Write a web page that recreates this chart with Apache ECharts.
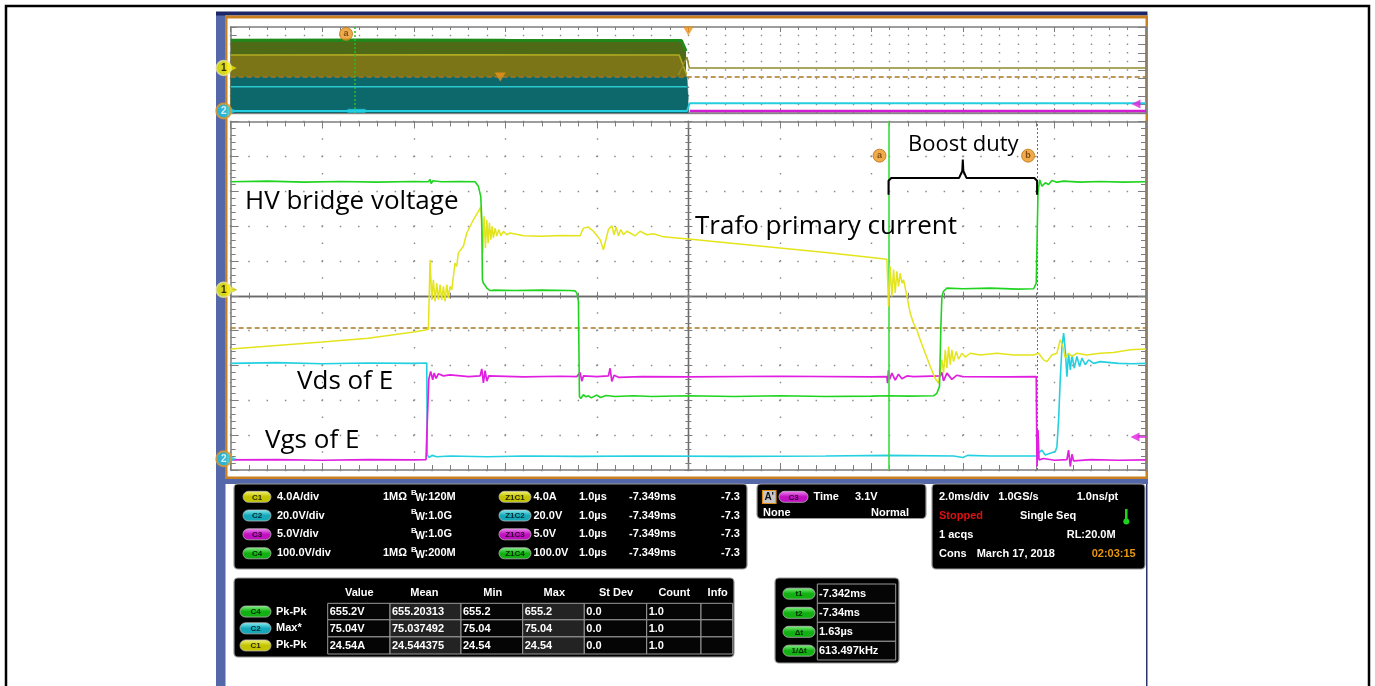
<!DOCTYPE html>
<html><head><meta charset="utf-8">
<script src="https://cdn.jsdelivr.net/npm/echarts/dist/echarts.min.js"></script>
<style>html,body{margin:0;padding:0;background:#fff;overflow:hidden}#c{width:1375px;height:686px}</style>
</head><body><div id="c"></div>
<script>
// ===================== DATA =====================
// Zoom window: 1.0 µs/div, 10 div; vertical in divisions (centre = 0)
const mainTimeRange = [-5, 5];
const mainDivRange = [-5, 5];
// Overview record: 2.0 ms/div
const overviewTimeRange = [0, 20];
const overviewDivRange = [0, 10];

// C4 – HV bridge voltage (green)  [µs, div]
const c4Bridge = [
 [-5.00,3.27],[-4.60,3.29],[-4.20,3.26],[-3.80,3.28],[-3.40,3.26],[-3.00,3.28],[-2.84,3.27],[-2.822,3.34],[-2.81,3.22],[-2.79,3.30],
 [-2.70,3.27],[-2.50,3.28],[-2.33,3.27],[-2.294,3.14],[-2.268,2.85],[-2.257,2.18],[-2.250,0.46],[-2.239,0.36],[-2.221,0.30],
 [-2.202,0.22],[-2.166,0.15],[-2.130,0.16],[-1.90,0.15],[-1.60,0.16],[-1.30,0.15],[-1.237,0.14],[-1.219,0.08],[-1.201,-0.16],
 [-1.190,-2.89],[-1.175,-2.95],[-1.146,-2.84],[-1.12,-2.90],[-1.091,-2.87],[-1.06,-2.93],[-1.00,-2.85],[-0.96,-2.92],[-0.90,-2.86],
 [-0.80,-2.89],[-0.60,-2.87],[-0.40,-2.89],[0.00,-2.87],[0.50,-2.89],[1.00,-2.87],[1.50,-2.89],[2.00,-2.88],[2.187,-2.87],
 [2.40,-2.88],[2.679,-2.87],[2.715,-2.80],[2.744,-2.60],[2.759,-0.88],[2.770,-0.02],[2.788,0.13],[2.825,0.22],[3.00,0.20],
 [3.30,0.22],[3.60,0.19],[3.772,0.20],[3.801,0.36],[3.812,1.90],[3.820,2.95],[3.838,3.33],[3.863,3.14],[3.899,3.24],[3.936,3.19],
 [3.972,3.31],[4.027,3.26],[4.100,3.29],[4.282,3.26],[4.50,3.28],[4.75,3.26],[5.00,3.27]
];
// C1 – Trafo primary current (yellow)
const c1Current = [
 [-5.00,-1.53],[-4.50,-1.43],[-4.00,-1.33],[-3.50,-1.22],[-3.00,-1.04],[-2.90,-1.00],[-2.84,-0.96],[-2.822,1.03],[-2.803,-0.12],
 [-2.786,0.46],[-2.767,-0.16],[-2.749,0.36],[-2.731,-0.12],[-2.713,0.32],[-2.694,-0.12],[-2.676,0.27],[-2.658,-0.16],[-2.639,0.32],
 [-2.622,-0.07],[-2.603,0.27],[-2.585,0.17],[-2.549,0.94],[-2.531,0.84],[-2.513,1.23],[-2.458,1.42],[-2.421,1.80],[-2.349,2.18],
 [-2.294,2.42],[-2.268,2.55],[-2.246,1.23],[-2.232,2.28],[-2.217,1.37],[-2.202,2.18],[-2.188,1.51],[-2.174,2.09],[-2.158,1.61],
 [-2.144,1.99],[-2.130,1.66],[-2.111,1.94],[-2.093,1.71],[-2.071,1.90],[-2.049,1.72],[-2.020,1.85],[-1.984,1.75],[-1.948,1.80],
 [-1.80,1.72],[-1.60,1.71],[-1.40,1.73],[-1.183,1.72],[-1.146,1.94],[-1.092,1.97],[-1.037,1.85],[-0.964,1.61],[-0.928,1.32],
 [-0.910,1.37],[-0.873,1.90],[-0.836,2.01],[-0.811,1.75],[-0.789,1.97],[-0.764,1.72],[-0.738,1.90],[-0.709,1.75],[-0.672,1.85],
 [-0.636,1.80],[-0.581,1.72],[-0.527,1.85],[-0.454,1.75],[-0.381,1.78],[-0.272,1.69],[-0.126,1.66],[0.001,1.63],[0.50,1.50],
 [1.00,1.37],[1.50,1.24],[2.00,1.10],[2.169,1.05],[2.187,-0.31],[2.205,0.84],[2.224,-0.02],[2.242,0.75],[2.260,0.08],[2.278,0.70],
 [2.296,0.27],[2.315,0.65],[2.333,0.36],[2.351,0.46],[2.388,-0.02],[2.424,-0.50],[2.460,-0.79],[2.497,-0.98],[2.533,-1.26],
 [2.588,-1.65],[2.643,-2.03],[2.697,-2.37],[2.734,-2.51],[2.752,-2.46],[2.770,-1.84],[2.788,-2.22],[2.807,-1.55],[2.825,-2.08],
 [2.843,-1.46],[2.861,-1.98],[2.879,-1.55],[2.897,-1.89],[2.927,-1.60],[2.952,-1.82],[2.989,-1.65],[3.025,-1.76],[3.080,-1.65],
 [3.189,-1.70],[3.371,-1.65],[3.553,-1.70],[3.772,-1.70],[3.827,-1.65],[3.881,-1.84],[3.918,-1.89],[3.972,-1.70],[4.027,-1.65],
 [4.063,-1.26],[4.093,-1.46],[4.118,-1.79],[4.154,-1.65],[4.191,-1.74],[4.245,-1.65],[4.354,-1.70],[4.500,-1.65],[4.646,-1.63],
 [4.828,-1.55],[5.00,-1.53]
];
// C2 – Vgs of E (cyan)
const c2Vgs = [
 [-5.00,-1.94],[-4.50,-1.92],[-4.00,-1.95],[-3.50,-1.93],[-3.00,-1.94],[-2.858,-1.93],[-2.852,-4.57],[-2.83,-4.64],[-2.80,-4.58],
 [-2.75,-4.62],[-2.60,-4.60],[-2.20,-4.62],[-1.80,-4.60],[-1.20,-4.61],[-0.50,-4.60],[0.50,-4.61],[1.50,-4.60],[2.187,-4.58],
 [2.20,-4.63],[2.90,-4.60],[3.00,-4.64],[3.05,-4.58],[3.30,-4.60],[3.809,-4.60],[3.820,-4.52],[3.863,-4.43],[3.899,-4.57],
 [3.954,-4.52],[4.009,-4.47],[4.027,-4.33],[4.045,-3.56],[4.063,-2.41],[4.082,-1.46],[4.100,-1.07],[4.118,-1.55],[4.136,-2.32],
 [4.154,-1.65],[4.173,-2.13],[4.191,-1.70],[4.216,-2.08],[4.245,-1.74],[4.275,-2.03],[4.300,-1.79],[4.336,-1.98],[4.373,-1.84],
 [4.428,-1.94],[4.50,-1.89],[4.70,-1.94],[4.85,-1.95],[5.00,-1.94]
];
// C3 – Vds of E (magenta)
const c3Vds = [
 [-5.00,-4.71],[-4.50,-4.70],[-4.00,-4.72],[-3.50,-4.70],[-3.00,-4.71],[-2.866,-4.70],[-2.851,-3.50],[-2.836,-2.40],[-2.815,-2.17],
 [-2.793,-2.41],[-2.778,-2.22],[-2.756,-2.37],[-2.731,-2.24],[-2.676,-2.30],[-2.603,-2.27],[-2.40,-2.32],[-2.275,-2.30],[-2.257,-2.10],
 [-2.239,-2.50],[-2.221,-2.15],[-2.202,-2.45],[-2.18,-2.30],[-1.80,-2.33],[-1.40,-2.31],[-1.219,-2.32],[-1.183,-2.20],[-1.164,-2.45],
 [-1.146,-2.30],[-1.00,-2.32],[-0.873,-2.30],[-0.855,-2.08],[-0.836,-2.46],[-0.811,-2.28],[-0.764,-2.34],[-0.50,-2.32],[0.00,-2.33],
 [1.00,-2.31],[2.00,-2.33],[2.169,-2.32],[2.176,-2.51],[2.187,-2.13],[2.198,-2.40],[2.224,-2.22],[2.260,-2.42],[2.296,-2.25],
 [2.333,-2.38],[2.388,-2.30],[2.460,-2.32],[2.752,-2.30],[2.770,-2.20],[2.788,-2.44],[2.825,-2.22],[2.879,-2.40],[2.934,-2.28],
 [3.00,-2.32],[3.50,-2.33],[3.801,-2.32],[3.809,-4.90],[3.820,-3.85],[3.831,-4.71],[3.881,-4.67],[4.00,-4.72],[4.136,-4.70],
 [4.154,-4.43],[4.173,-4.90],[4.191,-4.55],[4.209,-4.74],[4.40,-4.70],[4.70,-4.72],[5.00,-4.71]
];
const cursorTimes = [2.187, 3.81];          // µs
const cursorLabels = ['a', 'b'];
const cursorLabelLevel = 4.02;              // div
const triggerLevelMain = -0.92;             // div
const braceLevels = [2.90, 3.38, 3.91];     // div: ends, bar, tip
const mainChannelMarks = [0.17, -4.68];     // "1", "2" ground markers
const mainC3Ref = -4.05;

// Overview (full record)  [ms, div]
const ovGreenBand  = [[0,8.47],[3,8.50],[6,8.46],[9.85,8.43],[9.95,7.2]];
const ovOliveBand  = [[0,6.74],[5,6.76],[9.80,6.74],[9.96,4.5]];
const ovTealBand   = [[0,4.19],[9.97,4.19],[10.0,1.6]];
const ovCyanMid    = [[0,3.06],[9.97,3.06]];
const ovCyanLow    = [[0,0.23],[9.97,0.23],[10.03,1.13],[20,1.13]];
const ovOliveRight = [[9.78,4.4],[9.97,6.5],[10.02,5.23],[20,5.23]];
const ovMagentaRight = [[10.03,0.23],[20,0.23]];
const ovTriggerLevel = 4.19;
const ovTriggerMarks = [[10.0,10],[5.89,4.65]];
const ovCursorTime = 2.70;
const ovCursorLabel = [2.52, 9.19];
const ovCyanTag = [2.75, 0.25];
const ovChannelMarks = [5.23, 0.23];
const ovC3Ref = 1.05;

// Annotation texts
const annotationTexts = ['HV bridge voltage', 'Trafo primary current', 'Boost duty', 'Vds of E', 'Vgs of E'];

// Channel readout panel
const chLabels = ['C1','C2','C3','C4'];
const chScales = ['4.0A/div','20.0V/div','5.0V/div','100.0V/div'];
const chImpedance = ['1MΩ','','','1MΩ'];
const chBandwidth = [':120M',':1.0G',':1.0G',':200M'];
const zoomLabels = ['Z1C1','Z1C2','Z1C3','Z1C4'];
const zoomScales = ['4.0A','20.0V','5.0V','100.0V'];
const zoomTimeDiv = ['1.0µs','1.0µs','1.0µs','1.0µs'];
const zoomPosition = ['-7.349ms','-7.349ms','-7.349ms','-7.349ms'];
const zoomTrail = ['-7.3','-7.3','-7.3','-7.3'];
// Trigger panel
const trigRow1 = ["A'", 'C3', 'Time', '3.1V'];
const trigRow2 = ['None', 'Normal'];
// Timebase panel
const tbRow1 = ['2.0ms/div', '1.0GS/s', '1.0ns/pt'];
const tbRow2 = ['Stopped', 'Single Seq'];
const tbRow3 = ['1 acqs', 'RL:20.0M'];
const tbRow4 = ['Cons', 'March 17, 2018', '02:03:15'];
// Measurement table
const measHeader = ['Value','Mean','Min','Max','St Dev','Count','Info'];
const measChannels = ['C4','C2','C1'];
const measTypes = ['Pk-Pk','Max*','Pk-Pk'];
const measRowC4 = ['655.2V','655.20313','655.2','655.2','0.0','1.0',''];
const measRowC2 = ['75.04V','75.037492','75.04','75.04','0.0','1.0',''];
const measRowC1 = ['24.54A','24.544375','24.54','24.54','0.0','1.0',''];
// Cursor readout
const cursorNames = ['t1','t2','Δt','1/Δt'];
const cursorValues = ['-7.342ms','-7.34ms','1.63µs','613.497kHz'];

// ===================== STYLE =====================
const COL = {
  yellow:'#e4e41c', green:'#1fd41f', cyan:'#22d0e0', magenta:'#e01fe0',
  grid:'#8a8a8a', edge:'#7d7d7d', centre:'#6a6a6a', orange:'#c98020', trig:'#ab7520'
};
const PILL = {
  C1:['#f6f67a','#c4c400','#2a2a00'], C2:['#8af0f6','#14a8b8','#00282c'],
  C3:['#f48af4','#c010c0','#2c002c'], C4:['#86f486','#12b012','#002a00'], G:['#86f486','#12b012','#002a00']
};
const panelFont = 'bold 11px "Liberation Sans", Arial, sans-serif';
const annFont = '"Open Sans", "Noto Sans", sans-serif';

// ===================== CHART =====================
const chart = echarts.init(document.getElementById('c'), null, {renderer:'canvas', width:1375, height:686});

function axis(o){
  return Object.assign({type:'value', axisLabel:{show:false}, splitLine:{show:false}, axisPointer:{show:false}, silent:true}, o);
}
const edgeLine = {onZero:false, lineStyle:{color:COL.edge, width:1.5}};
const tick = (len) => ({show:true, inside:true, length:len, lineStyle:{color:COL.edge, width:1}});
const mtick = (len) => ({show:true, splitNumber:5, length:len, lineStyle:{color:COL.edge, width:1}});
const dotted = (dash, period) => ({show:true, lineStyle:{color:COL.grid, width:1.4, type:[dash, period-dash], dashOffset:dash/2}});

const xAxes = [
  axis({gridIndex:0, min:overviewTimeRange[0], max:overviewTimeRange[1], interval:2, position:'bottom', axisLine:edgeLine, axisTick:tick(5), minorTick:mtick(3), splitLine:dotted(1.5,8.6), minorSplitLine:dotted(1.5,8.6)}),
  axis({gridIndex:0, min:overviewTimeRange[0], max:overviewTimeRange[1], interval:2, position:'top', axisLine:edgeLine, axisTick:tick(5), minorTick:mtick(3)}),
  axis({gridIndex:1, min:mainTimeRange[0], max:mainTimeRange[1], interval:1, position:'bottom', axisLine:edgeLine, axisTick:tick(7), minorTick:mtick(5), splitLine:dotted(1.5,17.4)}),
  axis({gridIndex:1, min:mainTimeRange[0], max:mainTimeRange[1], interval:1, position:'top', axisLine:edgeLine, axisTick:tick(7), minorTick:mtick(5)}),
  axis({gridIndex:1, min:mainTimeRange[0], max:mainTimeRange[1], interval:1, position:'bottom', axisLine:{onZero:true, onZeroAxisIndex:2, lineStyle:{color:COL.centre, width:1.3}}, axisTick:tick(4), minorTick:mtick(3)}),
  axis({gridIndex:1, min:mainTimeRange[0], max:mainTimeRange[1], interval:1, position:'top', axisLine:{onZero:true, onZeroAxisIndex:2, lineStyle:{color:COL.centre, width:1.3}}, axisTick:tick(4), minorTick:mtick(3)})
];
const yAxes = [
  axis({gridIndex:0, min:overviewDivRange[0], max:overviewDivRange[1], interval:1, position:'left', axisLine:edgeLine, axisTick:tick(6)}),
  axis({gridIndex:0, min:overviewDivRange[0], max:overviewDivRange[1], interval:1, position:'right', axisLine:edgeLine, axisTick:tick(8)}),
  axis({gridIndex:1, min:mainDivRange[0], max:mainDivRange[1], interval:1, position:'left', axisLine:edgeLine, axisTick:tick(8), minorTick:mtick(5), splitLine:dotted(1.5,18.3)}),
  axis({gridIndex:1, min:mainDivRange[0], max:mainDivRange[1], interval:1, position:'right', axisLine:edgeLine, axisTick:tick(8), minorTick:mtick(5)}),
  axis({gridIndex:1, min:mainDivRange[0], max:mainDivRange[1], interval:1, position:'left', axisLine:{onZero:true, onZeroAxisIndex:2, lineStyle:{color:COL.centre, width:1.3}}, axisTick:tick(4), minorTick:mtick(3)}),
  axis({gridIndex:1, min:mainDivRange[0], max:mainDivRange[1], interval:1, position:'right', axisLine:{onZero:true, onZeroAxisIndex:2, lineStyle:{color:COL.centre, width:1.3}}, axisTick:tick(4), minorTick:mtick(3)})
];

function mainLine(data, color, w, z, extra){
  return Object.assign({type:'line', xAxisIndex:2, yAxisIndex:2, data, symbol:'none', silent:true,
    lineStyle:{color, width:w}, z}, extra||{});
}
function ovLine(data, color, w, z, extra){
  return Object.assign({type:'line', xAxisIndex:0, yAxisIndex:0, data, symbol:'none', silent:true,
    lineStyle:{color, width:w}, z}, extra||{});
}
function marker(xi, yi, data, o){
  return Object.assign({type:'scatter', xAxisIndex:xi, yAxisIndex:yi, data, silent:true, clip:false, z:12}, o);
}

// brace built from the cursor times
const t1 = cursorTimes[0], t2 = cursorTimes[1], tm = (t1 + t2) / 2;
const braceData = [[t1,braceLevels[0]],[t1,braceLevels[1]-0.08],[t1+0.03,braceLevels[1]],[tm-0.04,braceLevels[1]],
  [tm-0.006,braceLevels[1]+0.2],[tm,braceLevels[2]],[tm+0.006,braceLevels[1]+0.2],[tm+0.04,braceLevels[1]],
  [t2-0.03,braceLevels[1]],[t2,braceLevels[1]-0.08],[t2,braceLevels[0]]];

const series = [
  // ---- overview ----
  ovLine(ovGreenBand, '#1f8a1c', 3, 2, {areaStyle:{color:'#4f6a16', opacity:1, origin:'start'}}),
  ovLine(ovOliveBand, '#b2aa22', 1.6, 3, {areaStyle:{color:'#7b7518', opacity:1, origin:'start'}}),
  ovLine(ovTealBand, '#0d6a6c', 0.5, 4, {areaStyle:{color:'#0d686b', opacity:1, origin:'start'},
    markLine:{silent:true, symbol:'none', label:{show:false}, animation:false,
      data:[{yAxis:ovTriggerLevel, lineStyle:{color:COL.trig, width:1.5, type:[5,3]}},
            {xAxis:ovCursorTime, lineStyle:{color:'#22c022', width:1.5, type:[2,2]}}]}}),
  ovLine(ovCyanMid, '#2bc8d2', 1.5, 5),
  ovLine(ovCyanLow, '#24cde0', 2, 5),
  ovLine(ovOliveRight, '#8e8c2c', 1.5, 5),
  ovLine(ovMagentaRight, '#d41cd4', 2.5, 5),
  // ---- main traces ----
  mainLine(c2Vgs, COL.cyan, 1.6, 3),
  mainLine(c3Vds, COL.magenta, 1.7, 4),
  mainLine(c1Current, COL.yellow, 1.5, 5),
  mainLine(c4Bridge, COL.green, 1.6, 6, {
    markLine:{silent:true, symbol:'none', label:{show:false}, animation:false,
      data:[{yAxis:triggerLevelMain, lineStyle:{color:COL.trig, width:1.5, type:[5,3]}},
            {xAxis:cursorTimes[0], lineStyle:{color:'#3ddc3d', width:1.6, type:'solid'}},
            {xAxis:cursorTimes[1], lineStyle:{color:'#2f9a2f', width:1, type:[2,2]}}]}}),
  mainLine(braceData, '#000', 2, 8),
  // ---- markers ----
  marker(2,2,[[mainTimeRange[0], mainChannelMarks[0]]], {symbol:'triangle', symbolRotate:-90, symbolSize:[8,8], symbolOffset:[2,0], itemStyle:{color:'#e8e400', borderColor:'#a8a000', borderWidth:0.5}}),
  marker(2,2,[[mainTimeRange[0], mainChannelMarks[1]]], {symbol:'triangle', symbolRotate:-90, symbolSize:[8,8], symbolOffset:[2,0], itemStyle:{color:'#28c8e0'}}),
  marker(2,2,[[mainTimeRange[0], mainChannelMarks[0]]], {symbol:'circle', symbolSize:15, symbolOffset:[-7,0], itemStyle:{color:'#f4f000', borderColor:'#e6e2a0', borderWidth:1.5}, label:{show:true, position:'inside', formatter:'1', color:'#000', fontSize:10, fontWeight:'bold', fontFamily:'Liberation Sans'}}),
  marker(2,2,[[mainTimeRange[0], mainChannelMarks[1]]], {symbol:'circle', symbolSize:15, symbolOffset:[-7,0], itemStyle:{color:'#22c6e2', borderColor:'#e8961e', borderWidth:2}, label:{show:true, position:'inside', formatter:'2', color:'#fff', fontSize:10, fontWeight:'bold', fontFamily:'Liberation Sans'}}),
  marker(2,2,[[mainTimeRange[1], mainC3Ref]], {symbol:'rect', symbolSize:[9,2], symbolOffset:[-4,0], itemStyle:{color:COL.magenta}}),
  marker(2,2,[[mainTimeRange[1], mainC3Ref]], {symbol:'triangle', symbolRotate:90, symbolSize:[9,9], symbolOffset:[-11,0], itemStyle:{color:COL.magenta}}),
  marker(2,2,cursorTimes.map((t,i)=>[t,cursorLabelLevel,cursorLabels[i]]), {symbol:'circle', symbolSize:13, symbolOffset:[-9,0], itemStyle:{color:'#e8961e', borderColor:'#c07010', borderWidth:1}, label:{show:true, position:'inside', formatter:(p)=>p.data[2], color:'#6a3000', fontSize:9, fontWeight:'bold'}}),
  marker(0,0,[[overviewTimeRange[0], ovChannelMarks[0]]], {symbol:'triangle', symbolRotate:-90, symbolSize:[8,8], symbolOffset:[2,0], itemStyle:{color:'#e8e400'}}),
  marker(0,0,[[overviewTimeRange[0], ovChannelMarks[1]]], {symbol:'triangle', symbolRotate:-90, symbolSize:[8,8], symbolOffset:[2,0], itemStyle:{color:'#28c8e0'}}),
  marker(0,0,[[overviewTimeRange[0], ovChannelMarks[0]]], {symbol:'circle', symbolSize:15, symbolOffset:[-7,0], itemStyle:{color:'#f4f000', borderColor:'#e6e2a0', borderWidth:1.5}, label:{show:true, position:'inside', formatter:'1', color:'#000', fontSize:10, fontWeight:'bold', fontFamily:'Liberation Sans'}}),
  marker(0,0,[[overviewTimeRange[0], ovChannelMarks[1]]], {symbol:'circle', symbolSize:15, symbolOffset:[-7,0], itemStyle:{color:'#22c6e2', borderColor:'#e8961e', borderWidth:2}, label:{show:true, position:'inside', formatter:'2', color:'#fff', fontSize:10, fontWeight:'bold', fontFamily:'Liberation Sans'}}),
  marker(0,0,[[overviewTimeRange[1], ovC3Ref]], {symbol:'triangle', symbolRotate:90, symbolSize:[9,9], symbolOffset:[-10,0], itemStyle:{color:COL.magenta}}),
  marker(0,0,ovTriggerMarks, {symbol:'triangle', symbolRotate:180, symbolSize:[11,9], symbolOffset:[0,4], itemStyle:{color:'#ec921c'}}),
  marker(0,0,[ovCursorLabel], {symbol:'circle', symbolSize:13, itemStyle:{color:'#e8961e', borderColor:'#c07010', borderWidth:1}, label:{show:true, position:'inside', formatter:'a', color:'#6a3000', fontSize:9, fontWeight:'bold'}}),
  marker(0,0,[ovCyanTag], {symbol:'rect', symbolSize:[18,4], itemStyle:{color:'#22d0e0'}})
];

// ===================== GRAPHICS (frame, annotations, panels) =====================
const g = [];
const R = (x,y,w,h,fill,extra) => g.push(Object.assign({type:'rect', shape:{x,y,width:w,height:h}, style:{fill}, silent:true}, extra||{}));
const T = (x,y,text,fill,font,align,z) => g.push({type:'text', x, y, silent:true, z:z||50,
  style:{text, fill, font, align:align||'left', textAlign:align||'left', verticalAlign:'middle', textVerticalAlign:'middle'}});
function pill(x,y,w,label,key){
  const c = PILL[key];
  g.push({type:'rect', silent:true, z:40, shape:{x, y:y-5.5, width:w, height:11, r:5.5},
    style:{fill:new echarts.graphic.LinearGradient(0,0,0,1,[{offset:0,color:c[0]},{offset:0.5,color:c[1]},{offset:1,color:c[1]}]), stroke:'#b8b8b8', lineWidth:0.8}});
  T(x+w/2, y+0.5, label, c[2], 'bold 8px "Liberation Sans", Arial', 'center', 45);
}
function panel(x,y,w,h){
  g.push({type:'rect', silent:true, z:30, shape:{x,y,width:w,height:h,r:4}, style:{fill:'#000', stroke:'#9a9a9a', lineWidth:1.2}});
}

// page frame
g.push({type:'rect', silent:true, z:1, shape:{x:6,y:6,width:1363,height:720}, style:{fill:'none', stroke:'#000', lineWidth:2.5}});
// scope screen frame
R(216,12,9.5,674,'#5467a9');
R(216,11.5,931.5,4,'#1c2566');
R(225,15.5,922.5,3,COL.orange);
R(225,15.5,2.5,463.5,COL.orange);
R(1145.5,15.5,2.5,463.5,COL.orange);
R(225,476.5,923,2.5,COL.orange);
R(216,479,932,5,'#5467a9');
R(1146,484,1.5,202,'#2a3470');
// grey separator line below overview
R(230.7,113,915.3,1.2,'#9a9a9a');

// annotations
T(245, 202, annotationTexts[0], '#000', '26px ' + annFont);
T(695, 227, annotationTexts[1], '#000', '26px ' + annFont);
T(908, 145, annotationTexts[2], '#000', '22px ' + annFont);
T(297, 382, annotationTexts[3], '#000', '26px ' + annFont);
T(265, 440.5, annotationTexts[4], '#000', '26px ' + annFont);

// channel panel
panel(234,484,513,85);
const chRowsY = [496.8, 515.5, 534.3, 553.3];
chLabels.forEach((lab,i)=>{
  const y = chRowsY[i];
  pill(243,y,28,lab,lab);
  T(277,y,chScales[i],'#fff',panelFont);
  if (chImpedance[i]) T(383,y,chImpedance[i],'#fff',panelFont);
  T(411,y-4,'B','#fff','bold 8px "Liberation Sans", Arial');
  T(415.5,y+1.5,'W','#fff','bold 10px "Liberation Sans", Arial');
  T(424.5,y,chBandwidth[i],'#fff',panelFont);
  pill(499,y,32,zoomLabels[i],lab);
  T(533.5,y,zoomScales[i],'#fff',panelFont);
  T(579,y,zoomTimeDiv[i],'#fff',panelFont);
  T(629,y,zoomPosition[i],'#fff',panelFont);
  T(721,y,zoomTrail[i],'#fff',panelFont);
});

// trigger panel
panel(757,484,169,34.5);
g.push({type:'rect', silent:true, z:40, shape:{x:762.5,y:490.5,width:13.5,height:13}, style:{fill:'#c8c8c8', stroke:'#e08a1a', lineWidth:1.2}});
T(769.2,497.2,trigRow1[0],'#111','bold 10px "Liberation Sans", Arial','center');
pill(779,496.8,29,trigRow1[1],'C3');
T(813.5,496.8,trigRow1[2],'#fff',panelFont);
T(855,496.8,trigRow1[3],'#fff',panelFont);
T(763,512.5,trigRow2[0],'#fff',panelFont);
T(909,512.5,trigRow2[1],'#fff',panelFont,'right');

// timebase panel
panel(932,484,213,85);
const tbY = [496.8, 515.6, 534.8, 553.8];
T(939,tbY[0],tbRow1[0],'#fff',panelFont); T(998.3,tbY[0],tbRow1[1],'#fff',panelFont); T(1076.7,tbY[0],tbRow1[2],'#fff',panelFont);
T(939,tbY[1],tbRow2[0],'#e01010',panelFont); T(1020,tbY[1],tbRow2[1],'#fff',panelFont);
R(1125,509,2.6,11,'#1ed21e',{z:40});
g.push({type:'circle', silent:true, z:40, shape:{cx:1126.3,cy:521.5,r:3}, style:{fill:'#1ed21e'}});
T(939,tbY[2],tbRow3[0],'#fff',panelFont); T(1066.7,tbY[2],tbRow3[1],'#fff',panelFont);
T(939,tbY[3],tbRow4[0],'#fff',panelFont); T(976.7,tbY[3],tbRow4[1],'#fff',panelFont); T(1091.7,tbY[3],tbRow4[2],'#e8960f',panelFont);

// measurement table
panel(234,578,500,79);
const mColX = [327.7, 390, 461, 522.7, 584.3, 646.7, 701, 732.7];
const mRowY = [603.3, 619.8, 636.9, 654];
const mHeadX = [359.3, 424.3, 492.7, 554.3, 616, 674.3, 717.7];
measHeader.forEach((h,i)=>T(mHeadX[i],592.7,h,'#fff',panelFont,'center'));
const measRows = [measRowC4, measRowC2, measRowC1];
measRows.forEach((row,r)=>{
  const y0 = mRowY[r], y1 = mRowY[r+1], yc = (y0+y1)/2;
  pill(240,yc,31,measChannels[r],measChannels[r]);
  T(276,yc,measTypes[r],'#fff',panelFont);
  row.forEach((v,c)=>{
    g.push({type:'rect', silent:true, z:35, shape:{x:mColX[c], y:y0, width:mColX[c+1]-mColX[c], height:y1-y0},
      style:{fill:(c===1||c===3)?'#232323':'#050505', stroke:'#9a9a9a', lineWidth:1}});
    if (v) T(mColX[c]+2,yc+0.5,v,'#fff',panelFont);
  });
});

// cursor readout
panel(775,578,124,85);
const cRowY = [584, 603.3, 622.3, 641.3, 660];
cursorNames.forEach((n,i)=>{
  const y0 = cRowY[i], y1 = cRowY[i+1], yc = (y0+y1)/2;
  pill(783,yc,32,n,'G');
  g.push({type:'rect', silent:true, z:35, shape:{x:817.3, y:y0, width:78.4, height:y1-y0}, style:{fill:'#050505', stroke:'#9a9a9a', lineWidth:1}});
  T(819,yc+0.5,cursorValues[i],'#fff',panelFont);
});

chart.setOption({
  animation:false,
  backgroundColor:'#ffffff',
  grid:[
    {left:230.7, top:27, width:915.3, height:86, show:false},
    {left:230.7, top:121.5, width:915.3, height:348.5, show:false}
  ],
  xAxis:xAxes,
  yAxis:yAxes,
  series,
  graphic:{elements:g}
});
</script></body></html>
